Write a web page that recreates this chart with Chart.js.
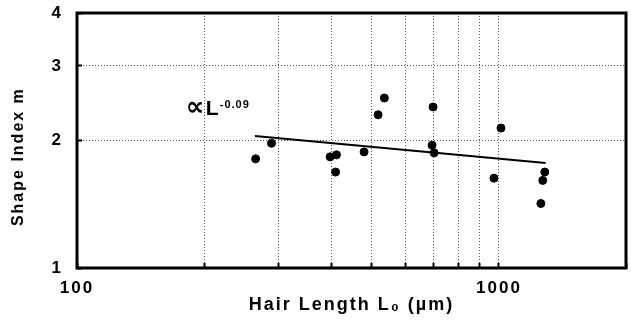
<!DOCTYPE html>
<html>
<head>
<meta charset="utf-8">
<script src="https://cdn.jsdelivr.net/npm/chart.js@4.4.1/dist/chart.umd.min.js"></script>
<style>
  html, body { margin: 0; padding: 0; background: #fff; }
  #wrap { width: 631px; height: 326px; }
</style>
</head>
<body>
<div id="wrap"><canvas id="shapeChart"></canvas></div>
<script>
// hair length L0 (um) and shape index m
const hairLength = [265, 289, 398, 412, 410, 479, 517, 535, 694, 698, 702, 973, 1011, 1257, 1270, 1284];
const shapeIndex = [1.81, 1.97, 1.83, 1.85, 1.685, 1.88, 2.30, 2.52, 1.95, 2.40, 1.87, 1.63, 2.14, 1.42, 1.61, 1.685];

// power law fit m ~ L^-0.09, end points
const fitLength = [264, 1290];
const fitShape = [2.05, 1.77];

// grid positions and which of them carry a label
const xGrid = [100, 200, 300, 400, 500, 600, 700, 800, 900, 1000, 2000];
const yGrid = [1, 2, 3, 4];
const xLabels = [100, 1000];
const yLabels = [1, 2, 3, 4];

const points = hairLength.map((l, i) => ({ x: l, y: shapeIndex[i] }));
const fitLine = fitLength.map((l, i) => ({ x: l, y: fitShape[i] }));

const bold = { family: "'Liberation Sans', Arial, sans-serif", weight: "bold" };

const decor = {
    id: "decor",
    beforeDraw(chart) {
        chart.ctx.letterSpacing = "2px";
    },
    afterDatasetsDraw(chart) {
        const ctx = chart.ctx;
        const a = chart.chartArea;
        ctx.save();
        ctx.setLineDash([]);
        ctx.strokeStyle = "#000";
        ctx.lineWidth = 3;
        ctx.strokeRect(a.left, a.top, a.right - a.left, a.bottom - a.top);

        // the fit label
        const x = chart.scales.x.getPixelForValue(182);
        const y = chart.scales.y.getPixelForValue(2.3);
        ctx.fillStyle = "#000";
        ctx.textAlign = "left";
        ctx.textBaseline = "alphabetic";
        ctx.letterSpacing = "0px";
        ctx.font = "bold 26px 'DejaVu Sans'";
        ctx.fillText("\u221D", x - 1, y);
        ctx.font = "bold 21px 'Liberation Sans'";
        ctx.fillText("L", x + 19, y);
        ctx.letterSpacing = "1px";
        ctx.font = "bold 11px 'Liberation Sans'";
        ctx.fillText("-0.09", x + 33, y - 7);
        ctx.restore();
    }
};

new Chart(document.getElementById("shapeChart"), {
    type: "scatter",
    data: {
        datasets: [
            {
                data: points,
                backgroundColor: "#000",
                borderColor: "#000",
                pointRadius: 4,
                pointHoverRadius: 4
            },
            {
                data: fitLine,
                showLine: true,
                borderColor: "#000",
                borderWidth: 2,
                pointRadius: 0
            }
        ]
    },
    options: {
        responsive: true,
        maintainAspectRatio: false,
        animation: false,
        events: [],
        layout: { padding: { top: 13, right: 5, left: 0, bottom: 0 } },
        plugins: {
            legend: { display: false },
            tooltip: { enabled: false }
        },
        scales: {
            x: {
                type: "logarithmic",
                position: "bottom",
                min: 100,
                max: 2000,
                afterBuildTicks(scale) { scale.ticks = xGrid.map(v => ({ value: v })); },
                afterFit(scale) {
                    scale.height = 58;
                    scale.paddingLeft = 0;
                    scale.paddingRight = 0;
                },
                border: { display: false, dash: [1, 2] },
                grid: {
                    color: "#555",
                    lineWidth: 1,
                    tickLength: -5,
                    tickColor: "#000",
                    tickWidth: 2
                },
                ticks: {
                    autoSkip: false,
                    maxRotation: 0,
                    padding: 15,
                    color: "#000",
                    font: { ...bold, size: 17 },
                    callback: v => xLabels.includes(v) ? String(v) : ""
                },
                title: {
                    display: true,
                    text: "Hair Length L\u2080 (\u00B5m)",
                    color: "#000",
                    font: { ...bold, size: 18 },
                    padding: { top: 0, bottom: 10 }
                }
            },
            y: {
                type: "logarithmic",
                min: 1,
                max: 4,
                afterBuildTicks(scale) { scale.ticks = yGrid.map(v => ({ value: v })); },
                afterFit(scale) {
                    scale.width = 77;
                    scale.paddingTop = 0;
                    scale.paddingBottom = 0;
                },
                border: { display: false, dash: [1, 2] },
                grid: {
                    color: "#555",
                    lineWidth: 1,
                    tickLength: -5,
                    tickColor: "#000",
                    tickWidth: 2
                },
                ticks: {
                    autoSkip: false,
                    padding: 19,
                    color: "#000",
                    font: { ...bold, size: 17 },
                    callback: v => yLabels.includes(v) ? String(v) : ""
                },
                title: {
                    display: true,
                    text: "Shape Index m     ",
                    color: "#000",
                    font: { ...bold, size: 16 },
                    padding: { top: 9, bottom: 0 }
                }
            }
        }
    },
    plugins: [decor]
});
</script>
</body>
</html>
